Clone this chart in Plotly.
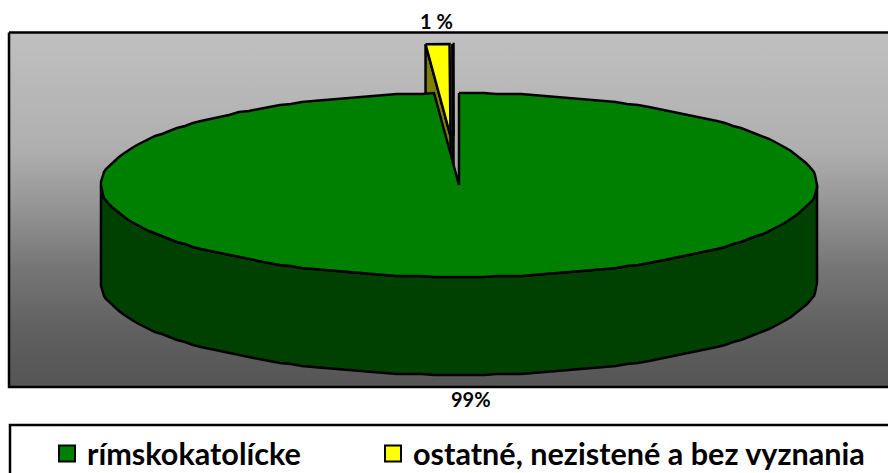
import numpy as np
import plotly.graph_objects as go

# Data
categories = ["rímskokatolícke", "ostatné, nezistené a bez vyznania", "iné"]
values = [98.89, 1.067, 0.043]
value_labels = ["99%", "1 %"]

# Style and layout
top_colors = ["#008000", "#FFFF00", "#C0C0C0"]
wall_colors = ["#004000", "#808000", "#606060"]
explode_px = [(0, 0), (-8.5, -49), (-5.5, -49)]
gradient = [[0, "#555555"], [0.15, "#5F5F5F"], [0.33, "#757575"], [0.5, "#939393"],
            [0.67, "#AFAFAF"], [1, "#C0C0C0"]]
CX, CY, RX, RY, DEPTH = 459, 185, 358, 92, 98
FONT = "Lato, Carlito, sans-serif"
W, H = 888, 473
LW = 2.5


def rim(a0, a1, dx, dy, step=2.0, grid=None):
    n = max(2, int(abs(a1 - a0) / step) + 1)
    a = np.radians(np.linspace(a0, a1, n))
    x, y = CX + dx + RX * np.sin(a), CY + dy - RY * np.cos(a)
    if grid:
        x, y = np.round(x / grid) * grid, np.round(y / grid) * grid
    return x, y


def poly(x, y, fill, lw=LW):
    return go.Scatter(
        x=list(x), y=list(y), mode="lines", fill="toself", fillcolor=fill,
        line=dict(color="black", width=lw), hoverinfo="skip", showlegend=False,
    )


edges = np.concatenate([[0], np.cumsum(values)]) / sum(values) * 360
fig = go.Figure()

# Plot area with vertical gradient
fig.add_trace(go.Scatter(
    x=[9, 910, 910, 9, 9], y=[32.5, 32.5, 387, 387, 32.5], mode="lines", fill="toself",
    line=dict(color="black", width=LW), hoverinfo="skip", showlegend=False,
    fillgradient=dict(type="vertical", colorscale=gradient),
))

# Exploded small slices (back to front), then the main slice
for i in [2, 1]:
    dx, dy = explode_px[i]
    rx, ry = rim(edges[i], edges[i + 1], dx, dy)
    tx, ty = CX + dx, CY + dy
    fig.add_trace(poly(
        [rx[0], tx, tx, rx[0], rx[0]],
        [ry[0], ty, ty + DEPTH, ry[0] + DEPTH, ry[0]],
        wall_colors[i],
    ))
    fig.add_trace(poly(list(rx) + [tx, rx[0]], list(ry) + [ty, ry[0]], top_colors[i]))

# Main slice wall (front half) and top
wx, wy = rim(90, 270, 0, 0, grid=1)
fig.add_trace(poly(list(wx) + list(wx[::-1]) + [wx[0]],
                   list(wy) + list(wy[::-1] + DEPTH) + [wy[0]], wall_colors[0]))
rx, ry = rim(edges[0], edges[1], 0, 0, grid=1)
fig.add_trace(poly(list(rx) + [CX, rx[0]], list(ry) + [CY, ry[0]], top_colors[0]))

# Legend frame
fig.add_trace(go.Scatter(
    x=[910, 10, 10], y=[425, 425, 490], mode="lines",
    line=dict(color="black", width=LW), hoverinfo="skip", showlegend=False,
))

# Legend entries
for i, key in enumerate(["legend", "legend2"]):
    fig.add_trace(go.Scatter(
        x=[None], y=[None], mode="markers", name=categories[i], legend=key,
        marker=dict(symbol="square", size=16, color=top_colors[i],
                    line=dict(color="black", width=2)),
    ))

fig.add_annotation(x=436, y=21, text=f"<b>{value_labels[1]}</b>", showarrow=False,
                   font=dict(family=FONT, size=20, color="black"))
fig.add_annotation(x=471, y=399, text=f"<b>{value_labels[0]}</b>", showarrow=False,
                   font=dict(family=FONT, size=20, color="black"))

legend_style = dict(
    orientation="h", xanchor="left", yanchor="top",
    bgcolor="rgba(0,0,0,0)", itemclick=False, itemdoubleclick=False,
    font=dict(family=FONT, size=30.6, color="black", weight=700),
    itemsizing="trace",
)
fig.update_layout(
    width=W, height=H, margin=dict(l=0, r=0, t=0, b=0, autoexpand=False),
    paper_bgcolor="white", plot_bgcolor="white",
    xaxis=dict(range=[0, W], visible=False, fixedrange=True),
    yaxis=dict(range=[H, 0], visible=False, fixedrange=True),
    legend=dict(x=47 / W, y=1 - 427 / H, **legend_style),
    legend2=dict(x=373 / W, y=1 - 427 / H, **legend_style),
    showlegend=True,
)

fig.write_html("out.html", config={"displayModeBar": False},
               post_script="document.body.style.margin='0';")
